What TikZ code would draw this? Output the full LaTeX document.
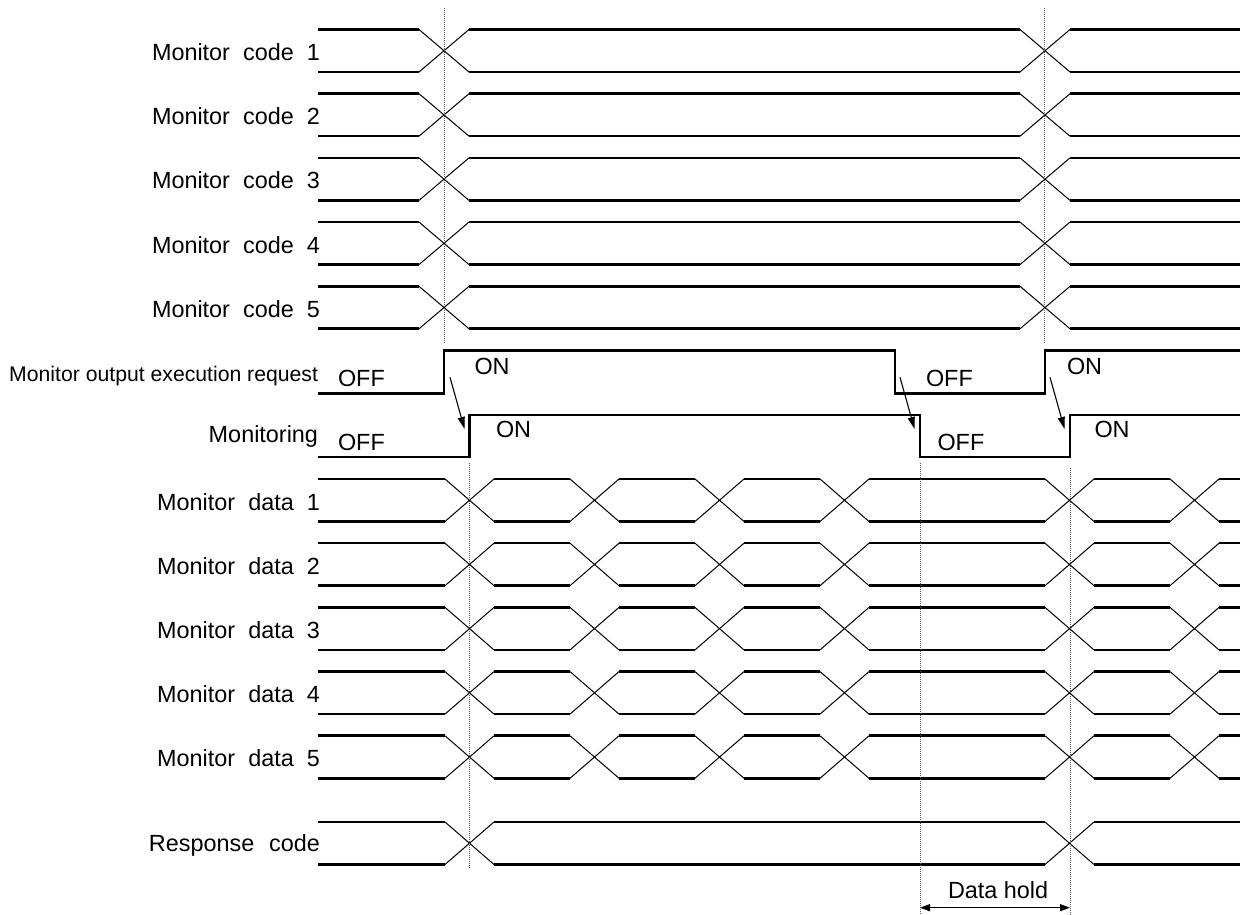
\documentclass[tikz,border=0pt]{standalone}
\usepackage{fontspec}
\setmainfont{Liberation Sans}
\usetikzlibrary{arrows.meta}
\begin{document}
\begin{tikzpicture}[x=1pt,y=1pt,
  font=\fontsize{23.4}{28}\selectfont,
  sigbus/.style={draw=drawColor,line width= 2.6pt,line join=round,line cap=butt},
  sigcross/.style={draw=drawColor,line width= 1.0pt,line join=round,line cap=butt},
  sigedge/.style={draw=drawColor,line width= 2.6pt,line join=miter,line cap=butt},
  guide/.style={draw=guideColor,line width= 0.8pt,dash pattern=on 1pt off 1pt},
  siglabel/.style={text=drawColor,anchor=base east,inner sep=0pt, outer sep=0pt,
    execute at begin node={\spaceskip=0.56em\relax}},
  statelabel/.style={text=drawColor,anchor=base west,inner sep=0pt, outer sep=0pt}]
\definecolor{fillColor}{RGB}{255,255,255}
\definecolor{guideColor}{RGB}{90,90,90}
\path[use as bounding box,fill=fillColor] (0,0) rectangle (1240,915);

% monitor codes
\begin{scope}
\definecolor{drawColor}{RGB}{0,0,0}

\path[sigbus] (318,885.5) -- (419,885.5) (469,885.5) -- (1020,885.5) (1070,885.5) -- (1240,885.5)
	(318,843.0) -- (419,843.0) (469,843.0) -- (1020,843.0) (1070,843.0) -- (1240,843.0);
\path[sigcross] (419,885.5) -- (469,843.0) (419,843.0) -- (469,885.5)
	(1020,885.5) -- (1070,843.0) (1020,843.0) -- (1070,885.5);

\path[sigbus] (318,821.3) -- (419,821.3) (469,821.3) -- (1020,821.3) (1070,821.3) -- (1240,821.3)
	(318,778.8) -- (419,778.8) (469,778.8) -- (1020,778.8) (1070,778.8) -- (1240,778.8);
\path[sigcross] (419,821.3) -- (469,778.8) (419,778.8) -- (469,821.3)
	(1020,821.3) -- (1070,778.8) (1020,778.8) -- (1070,821.3);

\path[sigbus] (318,757.1) -- (419,757.1) (469,757.1) -- (1020,757.1) (1070,757.1) -- (1240,757.1)
	(318,714.6) -- (419,714.6) (469,714.6) -- (1020,714.6) (1070,714.6) -- (1240,714.6);
\path[sigcross] (419,757.1) -- (469,714.6) (419,714.6) -- (469,757.1)
	(1020,757.1) -- (1070,714.6) (1020,714.6) -- (1070,757.1);

\path[sigbus] (318,692.9) -- (419,692.9) (469,692.9) -- (1020,692.9) (1070,692.9) -- (1240,692.9)
	(318,650.4) -- (419,650.4) (469,650.4) -- (1020,650.4) (1070,650.4) -- (1240,650.4);
\path[sigcross] (419,692.9) -- (469,650.4) (419,650.4) -- (469,692.9)
	(1020,692.9) -- (1070,650.4) (1020,650.4) -- (1070,692.9);

\path[sigbus] (318,628.7) -- (419,628.7) (469,628.7) -- (1020,628.7) (1070,628.7) -- (1240,628.7)
	(318,586.2) -- (419,586.2) (469,586.2) -- (1020,586.2) (1070,586.2) -- (1240,586.2);
\path[sigcross] (419,628.7) -- (469,586.2) (419,586.2) -- (469,628.7)
	(1020,628.7) -- (1070,586.2) (1020,586.2) -- (1070,628.7);

\node[siglabel] (code1) at (320,854.3) {Monitor code 1};
\node[siglabel] (code2) at (320,790.6) {Monitor code 2};
\node[siglabel] (code3) at (320,726.2) {Monitor code 3};
\node[siglabel] (code4) at (320,661.4) {Monitor code 4};
\node[siglabel] (code5) at (320,597.5) {Monitor code 5};
\end{scope}

% request and monitoring
\begin{scope}
\definecolor{drawColor}{RGB}{0,0,0}

\path[sigedge] (318,521.7) -- (444,521.7) -- (444,564.3) -- (895,564.3) --
	(895,521.7) -- (1045,521.7) -- (1045,564.3) -- (1240,564.3);

\path[sigedge] (318,458.0) -- (469.5,458.0) -- (469.5,500.0) -- (920,500.0) --
	(920,458.0) -- (1070,458.0) -- (1070,500.0) -- (1240,500.0);

\node[siglabel,font=\fontsize{21.2}{25}\selectfont,execute at begin node={\spaceskip=0pt\relax}] (request) at (318,533.5) {Monitor output execution request};
\node[siglabel] (monitoring) at (318,472.0) {Monitoring};

\node[statelabel] (reqoff1) at (338,528.3) {OFF};
\node[statelabel] (reqon1) at (474.5,540.7) {ON};
\node[statelabel] (reqoff2) at (926,528.3) {OFF};
\node[statelabel] (reqon2) at (1067,540.7) {ON};
\node[statelabel] (monoff1) at (338,464.0) {OFF};
\node[statelabel] (monon1) at (496,477.5) {ON};
\node[statelabel] (monoff2) at (937.5,464.0) {OFF};
\node[statelabel] (monon2) at (1094.5,477.5) {ON};

\coordinate (rise1) at (450,537.7);
\coordinate (mrise1) at (464.5,486.0);
\coordinate (fall1) at (900,537.7);
\coordinate (mfall1) at (914.5,486.0);
\coordinate (rise2) at (1050,537.7);
\coordinate (mrise2) at (1064.5,486.0);

\path[draw=drawColor,line width= 1.1pt,-{Triangle[length=12pt,width=7pt]}] (rise1) -- (mrise1);
\path[draw=drawColor,line width= 1.1pt,-{Triangle[length=12pt,width=7pt]}] (fall1) -- (mfall1);
\path[draw=drawColor,line width= 1.1pt,-{Triangle[length=12pt,width=7pt]}] (rise2) -- (mrise2);
\end{scope}

% monitor data
\begin{scope}
\definecolor{drawColor}{RGB}{0,0,0}

\path[sigbus] (318,436.0) -- (445,436.0) (494,436.0) -- (570,436.0) (619,436.0) -- (695,436.0)
	(744,436.0) -- (820,436.0) (869,436.0) -- (1045,436.0) (1094,436.0) -- (1170,436.0) (1219,436.0) -- (1240,436.0)
	(318,393.5) -- (445,393.5) (494,393.5) -- (570,393.5) (619,393.5) -- (695,393.5)
	(744,393.5) -- (820,393.5) (869,393.5) -- (1045,393.5) (1094,393.5) -- (1170,393.5) (1219,393.5) -- (1240,393.5);
\path[sigcross] (445,436.0) -- (494,393.5) (445,393.5) -- (494,436.0)
	(570,436.0) -- (619,393.5) (570,393.5) -- (619,436.0)
	(695,436.0) -- (744,393.5) (695,393.5) -- (744,436.0)
	(820,436.0) -- (869,393.5) (820,393.5) -- (869,436.0)
	(1045,436.0) -- (1094,393.5) (1045,393.5) -- (1094,436.0)
	(1170,436.0) -- (1219,393.5) (1170,393.5) -- (1219,436.0);

\path[sigbus] (318,371.8) -- (445,371.8) (494,371.8) -- (570,371.8) (619,371.8) -- (695,371.8)
	(744,371.8) -- (820,371.8) (869,371.8) -- (1045,371.8) (1094,371.8) -- (1170,371.8) (1219,371.8) -- (1240,371.8)
	(318,329.3) -- (445,329.3) (494,329.3) -- (570,329.3) (619,329.3) -- (695,329.3)
	(744,329.3) -- (820,329.3) (869,329.3) -- (1045,329.3) (1094,329.3) -- (1170,329.3) (1219,329.3) -- (1240,329.3);
\path[sigcross] (445,371.8) -- (494,329.3) (445,329.3) -- (494,371.8)
	(570,371.8) -- (619,329.3) (570,329.3) -- (619,371.8)
	(695,371.8) -- (744,329.3) (695,329.3) -- (744,371.8)
	(820,371.8) -- (869,329.3) (820,329.3) -- (869,371.8)
	(1045,371.8) -- (1094,329.3) (1045,329.3) -- (1094,371.8)
	(1170,371.8) -- (1219,329.3) (1170,329.3) -- (1219,371.8);

\path[sigbus] (318,307.6) -- (445,307.6) (494,307.6) -- (570,307.6) (619,307.6) -- (695,307.6)
	(744,307.6) -- (820,307.6) (869,307.6) -- (1045,307.6) (1094,307.6) -- (1170,307.6) (1219,307.6) -- (1240,307.6)
	(318,265.1) -- (445,265.1) (494,265.1) -- (570,265.1) (619,265.1) -- (695,265.1)
	(744,265.1) -- (820,265.1) (869,265.1) -- (1045,265.1) (1094,265.1) -- (1170,265.1) (1219,265.1) -- (1240,265.1);
\path[sigcross] (445,307.6) -- (494,265.1) (445,265.1) -- (494,307.6)
	(570,307.6) -- (619,265.1) (570,265.1) -- (619,307.6)
	(695,307.6) -- (744,265.1) (695,265.1) -- (744,307.6)
	(820,307.6) -- (869,265.1) (820,265.1) -- (869,307.6)
	(1045,307.6) -- (1094,265.1) (1045,265.1) -- (1094,307.6)
	(1170,307.6) -- (1219,265.1) (1170,265.1) -- (1219,307.6);

\path[sigbus] (318,243.4) -- (445,243.4) (494,243.4) -- (570,243.4) (619,243.4) -- (695,243.4)
	(744,243.4) -- (820,243.4) (869,243.4) -- (1045,243.4) (1094,243.4) -- (1170,243.4) (1219,243.4) -- (1240,243.4)
	(318,200.9) -- (445,200.9) (494,200.9) -- (570,200.9) (619,200.9) -- (695,200.9)
	(744,200.9) -- (820,200.9) (869,200.9) -- (1045,200.9) (1094,200.9) -- (1170,200.9) (1219,200.9) -- (1240,200.9);
\path[sigcross] (445,243.4) -- (494,200.9) (445,200.9) -- (494,243.4)
	(570,243.4) -- (619,200.9) (570,200.9) -- (619,243.4)
	(695,243.4) -- (744,200.9) (695,200.9) -- (744,243.4)
	(820,243.4) -- (869,200.9) (820,200.9) -- (869,243.4)
	(1045,243.4) -- (1094,200.9) (1045,200.9) -- (1094,243.4)
	(1170,243.4) -- (1219,200.9) (1170,200.9) -- (1219,243.4);

\path[sigbus] (318,179.2) -- (445,179.2) (494,179.2) -- (570,179.2) (619,179.2) -- (695,179.2)
	(744,179.2) -- (820,179.2) (869,179.2) -- (1045,179.2) (1094,179.2) -- (1170,179.2) (1219,179.2) -- (1240,179.2)
	(318,136.7) -- (445,136.7) (494,136.7) -- (570,136.7) (619,136.7) -- (695,136.7)
	(744,136.7) -- (820,136.7) (869,136.7) -- (1045,136.7) (1094,136.7) -- (1170,136.7) (1219,136.7) -- (1240,136.7);
\path[sigcross] (445,179.2) -- (494,136.7) (445,136.7) -- (494,179.2)
	(570,179.2) -- (619,136.7) (570,136.7) -- (619,179.2)
	(695,179.2) -- (744,136.7) (695,136.7) -- (744,179.2)
	(820,179.2) -- (869,136.7) (820,136.7) -- (869,179.2)
	(1045,179.2) -- (1094,136.7) (1045,136.7) -- (1094,179.2)
	(1170,179.2) -- (1219,136.7) (1170,136.7) -- (1219,179.2);

\node[siglabel] (data1) at (320,404.8) {Monitor data 1};
\node[siglabel] (data2) at (320,340.6) {Monitor data 2};
\node[siglabel] (data3) at (320,276.4) {Monitor data 3};
\node[siglabel] (data4) at (320,212.2) {Monitor data 4};
\node[siglabel] (data5) at (320,148.0) {Monitor data 5};
\end{scope}

% response code
\begin{scope}
\definecolor{drawColor}{RGB}{0,0,0}

\path[sigbus] (318,93.0) -- (445,93.0) (494,93.0) -- (1045,93.0) (1094,93.0) -- (1240,93.0)
	(318,50.5) -- (445,50.5) (494,50.5) -- (1045,50.5) (1094,50.5) -- (1240,50.5);
\path[sigcross] (445,93.0) -- (494,50.5) (445,50.5) -- (494,93.0)
	(1045,93.0) -- (1094,50.5) (1045,50.5) -- (1094,93.0);

\node[siglabel,execute at begin node={\spaceskip=0.64em\relax}] (response) at (320,63.3) {Response code};
\end{scope}

% timing guides
\begin{scope}
\definecolor{drawColor}{RGB}{0,0,0}

\path[guide] (444,907) -- (444,572);
\path[guide] (1044,907) -- (1044,572);
\path[guide] (469.5,452) -- (469.5,47);
\path[guide] (920,452) -- (920,0);
\path[guide] (1070,447) -- (1070,0);

\coordinate (holdstart) at (920,7.3);
\coordinate (holdend) at (1070,7.3);
\path[draw=drawColor,line width= 1.5pt,{Triangle[length=10pt,width=7pt]}-{Triangle[length=10pt,width=7pt]}] (holdstart) -- (holdend);
\node[statelabel] (hold) at (948,16.0) {Data hold};
\end{scope}
\end{tikzpicture}
\end{document}
